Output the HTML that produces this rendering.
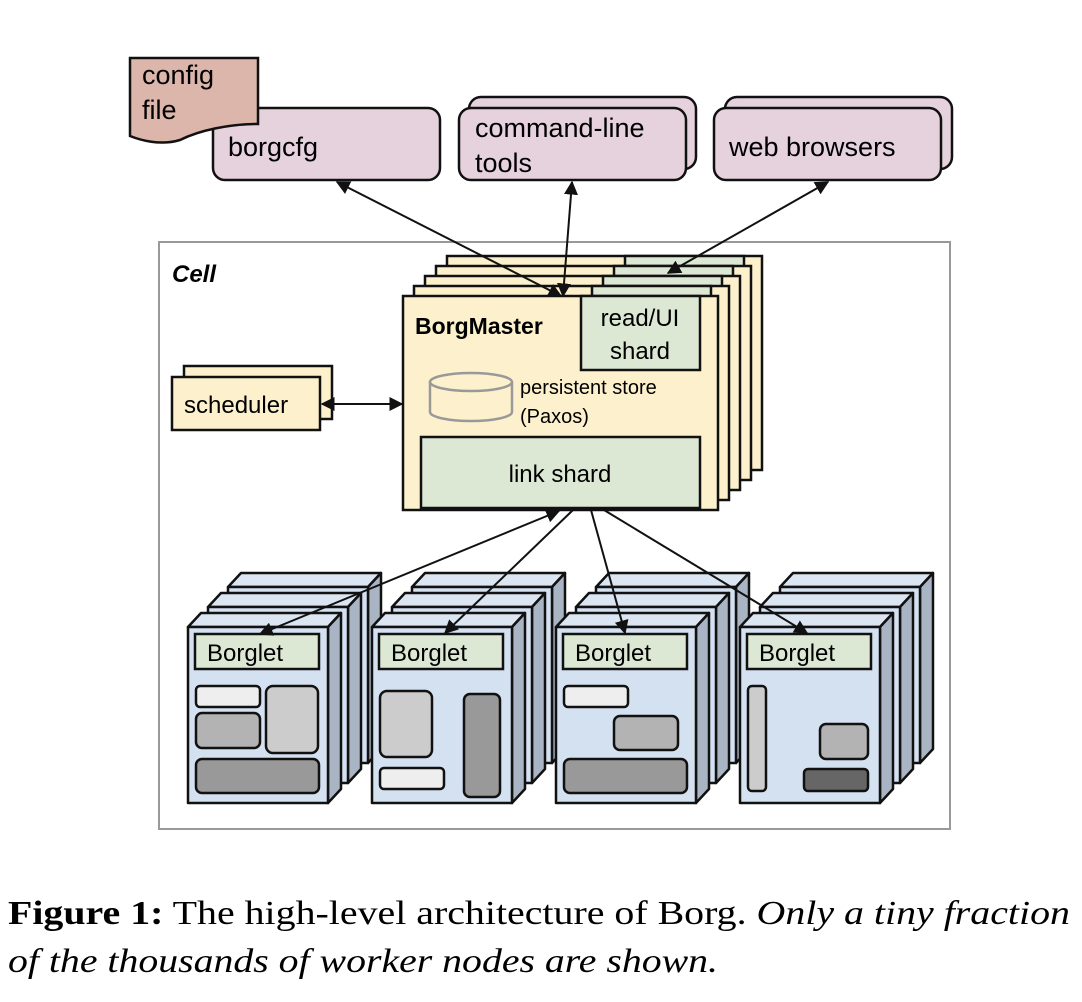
<!DOCTYPE html>
<html><head><meta charset="utf-8"><style>
body{margin:0;background:#fff;}
svg{display:block;}
text{font-family:"Liberation Sans",sans-serif;}
text.cap{font-family:"Liberation Serif",serif;}
</style></head><body>
<svg width="1082" height="1002" viewBox="0 0 1082 1002" xmlns="http://www.w3.org/2000/svg">
<defs>
<g id="cube" stroke="#111" stroke-width="2.5" stroke-linejoin="round">
<polygon points="0,0 13,-14 153,-14 140,0" fill="#dce6f3"/>
<polygon points="140,0 153,-14 153,162 140,176" fill="#a9b5c5"/>
<rect x="0" y="0" width="140" height="176" fill="#d4e1f1"/>
</g>
<g id="stack">
<use href="#cube" x="40" y="-40"/>
<use href="#cube" x="20" y="-20"/>
<use href="#cube" x="0" y="0"/>
<rect x="7" y="7" width="124" height="35" fill="#dce8d4" stroke="#111" stroke-width="2.5"/>
</g>
<g id="bm" stroke="#111" stroke-width="2.5">
<rect x="0" y="0" width="315" height="214" fill="#fcf1cc"/>
<rect x="178" y="0" width="119" height="12" fill="#dce8d4"/>
</g>
<marker id="ah" viewBox="0 0 10 10" refX="9" refY="5" markerWidth="7" markerHeight="7" orient="auto-start-reverse"><path d="M0,0 L10,5 L0,10 z" fill="#111"/></marker>
</defs>

<rect x="159" y="242" width="791" height="587" fill="none" stroke="#999" stroke-width="2"/>
<text x="172" y="282" font-size="24" font-weight="bold" font-style="italic">Cell</text>

<g stroke="#111" stroke-width="2.5" fill="#e6d2dc">
<rect x="213" y="108" width="227" height="72" rx="12"/>
<rect x="469" y="97" width="227" height="72" rx="12"/>
<rect x="459" y="108" width="227" height="72" rx="12"/>
<rect x="725" y="97" width="227" height="72" rx="12"/>
<rect x="714" y="108" width="227" height="72" rx="12"/>
<path d="M130,58 L258,58 L258,124 C230,124 200,130 180,140 C160,146 140,140 130,136 Z" fill="#dcb5ab"/>
</g>
<g font-size="27">
<text x="142" y="84">config</text>
<text x="142" y="119">file</text>
<text x="228" y="156">borgcfg</text>
<text x="475" y="137">command-line</text>
<text x="475" y="172">tools</text>
<text x="729" y="156">web browsers</text>
</g>

<use href="#bm" x="447" y="256"/>
<use href="#bm" x="436" y="266"/>
<use href="#bm" x="425" y="276"/>
<use href="#bm" x="414" y="286"/>
<g stroke="#111" stroke-width="2.5">
<rect x="403" y="296" width="315" height="214" fill="#fcf1cc"/>
<rect x="581" y="296" width="119" height="74" fill="#dce8d4"/>
<rect x="421" y="437" width="279" height="71" fill="#dce8d4"/>
</g>
<text x="415" y="334" font-size="23" font-weight="bold">BorgMaster</text>
<text x="640" y="326" font-size="24" text-anchor="middle">read/UI</text>
<text x="640" y="359" font-size="24" text-anchor="middle">shard</text>
<g fill="none" stroke="#999" stroke-width="2.5">
<path d="M430,382 L430,412 A41,9 0 0 0 512,412 L512,382"/>
<ellipse cx="471" cy="382" rx="41" ry="9"/>
</g>
<text x="520" y="394" font-size="20">persistent store</text>
<text x="520" y="423" font-size="20">(Paxos)</text>
<text x="560" y="482" font-size="24" text-anchor="middle">link shard</text>

<g stroke="#111" stroke-width="2.5" fill="#fcf1cc">
<rect x="184" y="366" width="148" height="53"/>
<rect x="172" y="377" width="148" height="53"/>
</g>
<text x="184" y="413" font-size="24">scheduler</text>

<use href="#stack" x="188" y="627"/>
<use href="#stack" x="372" y="627"/>
<use href="#stack" x="556" y="627"/>
<use href="#stack" x="740" y="627"/>
<g font-size="24">
<text x="207" y="661">Borglet</text>
<text x="391" y="661">Borglet</text>
<text x="575" y="661">Borglet</text>
<text x="759" y="661">Borglet</text>
</g>
<g stroke="#111" stroke-width="2.5">
<rect x="196" y="686" width="64" height="21" rx="4" fill="#eeeeee"/>
<rect x="196" y="713" width="64" height="35" rx="6" fill="#b3b3b3"/>
<rect x="266" y="686" width="52" height="67" rx="7" fill="#cccccc"/>
<rect x="196" y="759" width="123" height="34" rx="6" fill="#999999"/>
<rect x="380" y="691" width="52" height="66" rx="7" fill="#cccccc"/>
<rect x="380" y="768" width="64" height="21" rx="4" fill="#eeeeee"/>
<rect x="464" y="694" width="36" height="103" rx="6" fill="#999999"/>
<rect x="564" y="686" width="64" height="21" rx="4" fill="#eeeeee"/>
<rect x="614" y="716" width="64" height="34" rx="6" fill="#b3b3b3"/>
<rect x="564" y="759" width="123" height="34" rx="6" fill="#999999"/>
<rect x="748" y="686" width="18" height="105" rx="4" fill="#cccccc"/>
<rect x="820" y="724" width="48" height="35" rx="6" fill="#b3b3b3"/>
<rect x="804" y="769" width="64" height="22" rx="4" fill="#666666"/>
</g>

<g stroke="#111" stroke-width="2" fill="none" marker-start="url(#ah)" marker-end="url(#ah)">
<line x1="337" y1="182" x2="561" y2="296"/>
<line x1="572" y1="182" x2="563" y2="296"/>
<line x1="828" y1="182" x2="668" y2="273"/>
<line x1="322" y1="404" x2="402" y2="404"/>
<line x1="559" y1="511" x2="260" y2="634"/>
</g>
<g stroke="#111" stroke-width="2" fill="none" marker-end="url(#ah)">
<line x1="573" y1="510" x2="445" y2="633"/>
<line x1="591" y1="510" x2="625" y2="633"/>
<line x1="604" y1="510" x2="807" y2="633"/>
</g>

<text class="cap" x="8" y="924" font-size="34" textLength="1062" lengthAdjust="spacingAndGlyphs"><tspan font-weight="bold">Figure 1:</tspan> The high-level architecture of Borg. <tspan font-style="italic">Only a tiny fraction</tspan></text>
<text class="cap" x="8" y="972" font-size="34" font-style="italic" textLength="710" lengthAdjust="spacingAndGlyphs">of the thousands of worker nodes are shown.</text>
</svg>
</body></html>
